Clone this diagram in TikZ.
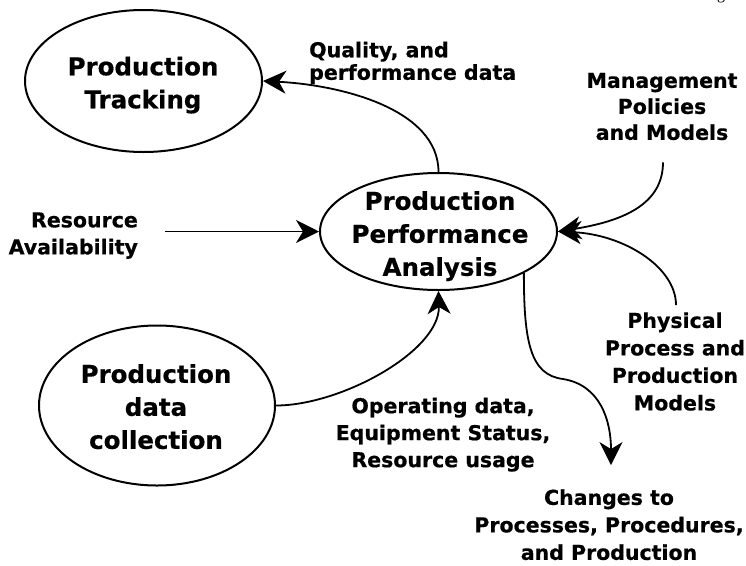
\documentclass[tikz,border=0pt]{standalone}
\usepackage{fontspec}
\newfontfamily\dv{DejaVu Sans}[BoldFeatures={FakeBold=0.6}]
\newfontfamily\serifpart{Liberation Serif}
\usetikzlibrary{shapes.geometric,arrows.meta,calc}

\tikzset{
  blob/.style={draw, ellipse, line width=2pt, inner sep=0pt},
  big/.style={font=\dv\bfseries\fontsize{24.5}{33}\selectfont, align=center, inner sep=0pt},
  lab/.style={font=\dv\bfseries\fontsize{20.5}{27}\selectfont, inner sep=0pt},
  flow/.style={line width=1.8pt, -{Stealth[length=23pt,width=23pt,inset=7pt]}},
}

\begin{document}
\begin{tikzpicture}[x=1pt, y=-1pt]
  \useasboundingbox (0,0) rectangle (746,565);

  % descender of a letter running in from above
  \node[font=\serifpart\fontsize{16}{16}\selectfont, anchor=base, inner sep=0pt] (g) at (721,-0.5) {g};

  % process bubbles
  \node[blob, minimum width=237pt, minimum height=142pt] (pt) at (143.5,81) {};
  \node[big] (pt-text) at (143,85.1) {Production\\Tracking};

  \node[blob, minimum width=237pt, minimum height=117pt] (pa) at (438.5,231.5) {};
  \node[big] (pa-text) at (440,236.1) {Production\\Performance\\Analysis};

  \node[blob, minimum width=236pt, minimum height=160pt] (dc) at (157,405.5) {};
  \node[big] (dc-text) at (156,406.7) {Production\\data\\collection};

  % flow labels
  \node[lab, align=left, anchor=west, font=\dv\bfseries\fontsize{20.5}{22.5}\selectfont]
    (qp) at (309,62.85) {Quality, and\\performance data};
  \node[lab, align=right, anchor=east] (ra) at (138,235.6) {Resource\\Availability};
  \node[lab, align=center, font=\dv\bfseries\fontsize{20.5}{26}\selectfont]
    (mp) at (662,106.5) {Management\\Policies\\and Models};
  \node[lab, align=center, font=\dv\bfseries\fontsize{20.5}{27.5}\selectfont]
    (pp) at (675,361.5) {Physical\\Process and\\Production\\Models};
  \node[lab, align=center] (od) at (443,434.6) {Operating data,\\Equipment Status,\\Resource usage};
  \node[lab, align=center, font=\dv\bfseries\fontsize{20.5}{27.5}\selectfont]
    (ch) at (609,524.7) {Changes to\\Processes, Procedures,\\and Production};

  % flows
  \draw[flow] (pa.north) .. controls +(0,-63) and +(78,4) .. (pt.east);
  \draw[flow] ($(ra.east |- pa.west)+(27,0)$) -- (pa.west);
  \draw[flow] ($(mp.south)+(1,22)$) .. controls +(0,43) and +(63,-10) .. (pa.east);
  \draw[flow] ($(pp.north)+(1,-7)$) .. controls +(0,-38) and +(66,3) .. (pa.east);
  \draw[flow] (dc.east) .. controls +(65,0) and +(1.5,60) .. (pa.south);
  \draw[flow] (pa.-26.4) .. controls +(0,68) and +(-33,-4) .. (563,379)
              .. controls +(37,6) and +(0,-45) .. ($(ch.north)+(2,-24)$);
\end{tikzpicture}
\end{document}
